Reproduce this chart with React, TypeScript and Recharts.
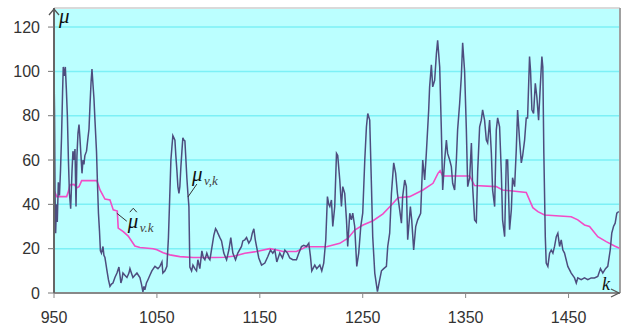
import React from 'react';
import { LineChart, Line, XAxis, YAxis, CartesianGrid, ReferenceLine, ReferenceDot } from 'recharts';

const kMu = [950,950.5,951,951.6,952.4,953.2,954.2,955.3,956.3,957.3,958.3,959,960,961,962,963,964,965,966.2,967.5,968.4,969.4,970.4,971.4,972.3,973.3,974.3,975.2,976.2,977.2,978.2,979.1,980,981.6,983,984,985,986,986.9,987.9,988.8,989.8,991.3,992.2,993.2,994.2,995.1,996.1,997.6,998.5,999.5,1000.5,1001.5,1002.9,1004.4,1005.8,1007.3,1009.2,1011.2,1013.1,1014.1,1015,1016,1017,1018.9,1020.9,1022.8,1023.8,1025.2,1026.7,1028.6,1030.6,1032,1033.5,1035,1036.4,1037.4,1038.3,1039.8,1041.3,1043.2,1045.1,1048.1,1051,1052.9,1054.9,1055.8,1057.8,1059.7,1061.2,1062.1,1063.6,1064.6,1065.5,1066.5,1067.5,1068.4,1069.4,1070.4,1071.4,1072.3,1073.3,1074.3,1075.2,1076.2,1077.2,1078.2,1079.1,1080.1,1081.1,1082,1083.7,1085,1086.9,1088.5,1089.8,1091.7,1093.7,1095.1,1096.6,1098.5,1100,1101.5,1104.1,1105.3,1107,1108.3,1109.2,1111.2,1112.8,1115,1117.7,1119.9,1121.8,1123.8,1126.4,1128.6,1132.2,1133.5,1135.4,1137.1,1139.3,1141.3,1142.7,1144.2,1145.6,1146.8,1149,1151.7,1154.9,1157.8,1160.4,1162.6,1164.6,1166.5,1169.4,1172,1174.3,1176.9,1179.1,1182,1185.6,1187.9,1190.5,1192.7,1195.3,1197.6,1199.2,1200.5,1203.4,1205.3,1208.3,1210.2,1212.1,1214.1,1215.7,1217,1218,1219.6,1220.9,1222.8,1224.5,1225.7,1227.7,1229.3,1230.6,1232.5,1234.2,1235.4,1237.4,1239,1240.3,1242.2,1244.2,1246.1,1248.1,1250,1252,1253.6,1254.9,1256.8,1258.5,1259.7,1261.7,1264.3,1266.5,1268.2,1270.4,1273,1274.3,1276.2,1277.9,1280.1,1282,1283.7,1285.9,1287.6,1288.8,1290.8,1292.4,1293.7,1296.3,1297.6,1299.5,1301.5,1303.4,1306.3,1308.3,1310.2,1311.8,1314.1,1315,1316.7,1318,1319.9,1321.6,1322.8,1324.8,1326.4,1327.7,1329.6,1331.3,1332.5,1334.5,1336.1,1337.4,1339.3,1341,1342.2,1344.2,1345.8,1347.1,1349,1350.7,1352,1353.9,1355.6,1356.8,1358.7,1360.4,1361.7,1363.6,1365.2,1366.5,1368.4,1370.1,1371.4,1373.3,1375,1376.2,1378.2,1379.8,1381.1,1383,1384.7,1385.9,1387.9,1389.5,1390.8,1392.7,1394.4,1395.6,1397.6,1399.2,1400.5,1402.4,1404.1,1405.3,1407.3,1408.9,1410.2,1412.1,1413.1,1414.4,1416,1417.7,1419.2,1420.9,1422.5,1424.1,1425,1426,1427.4,1428.3,1429.9,1431.6,1433.2,1434.8,1436.4,1438.1,1439.6,1441.3,1442.9,1444.5,1446.1,1449.3,1452.6,1455.8,1457.5,1459,1462.3,1465.5,1468.7,1472,1475.2,1478.4,1481,1483.3,1485.9,1488.1,1490.5,1492,1493.7,1495.3,1496.9,1498.8];

const muValues = [100,82,45,27,40,32,50,44,55,70,90,102,98,102,92,80,60,45,38,55,64,60,65,39,62,72,76,70,62,54,60,58,62,64,70,74,85,95,101,94,88,78,64,50,36,28,19,18,21,17,16,13,10,6,3,4,4.5,7,9,11.7,8,4.5,6,9,8,7,9,11,9,7,8,9,8,7,4,0.5,3,1.4,4.5,6,8,10,12,11,12,14,9,10,12,25,38,60,66,71,70,69,62,55.5,48,45,48,57,64,70,69,68.6,60,52,45,39,11.7,10,12.6,11,10,15,11,19,16,15,18,16,15,22.5,26,29,28,27,25,23.5,18,15,19.4,25,18,15,18,21,23.5,24,25,22.5,24,27,29,24,21,15.8,12.6,13.5,16.5,19.4,18,19.4,14,18,15.8,19.4,18,15.8,15,15,18,21,21.5,21,22.5,16.5,10,12.6,11,12.6,10,13.5,24,43.5,40,39,42,30,39,63,62,51,39,48,45,33,21,36,33,36,30,12,18,30,36,60,75,81,78,48,25.5,9,0.6,6,10,11,12,21,27,45,58.7,54,45,37.5,31.5,43.5,51,48,24,39,33,19.4,30,33,36,60,51,63,82.6,93,103,93,96,108,114,102,73.6,46.5,60,69,63,60,57,49.5,46.5,60,73.6,85.6,97.6,112.9,100,73.6,48,52,67.7,48,33,32,55,75,78,82.6,78,69,67.7,78,63,46.5,39,73.6,79,75,54,33,25.4,60,60,28.6,37.5,52,48,64.5,82.6,69,58.7,61.6,69,79,79,106.7,100,82.6,81,94.6,88.5,78,93,106.7,102,63,25.4,13.5,12,18,19.4,18,21,25.4,27,21,24,19.4,18,12,9,6.8,4.5,6.8,6,6.8,6,6.8,6.8,7.5,11,9,11,12,19.4,27,30,31.5,36,36.8];

const kHat = [950,952.6,962.3,964.1,965.5,969.4,972.3,974.3,976.9,991.7,994.7,999.5,1004.4,1007.6,1011.5,1012.4,1017.3,1022.1,1028.6,1033.5,1046.4,1050,1056.1,1062.6,1072.3,1085.2,1106.3,1116,1125.7,1135.4,1146.8,1159.7,1165.5,1172.6,1185.6,1195.3,1214.8,1227.7,1235.7,1242.2,1250.3,1260,1269.7,1277.9,1284.3,1295.6,1308.5,1318.3,1323.1,1325.2,1327.7,1353.9,1358.7,1379.8,1385.9,1408.9,1415.3,1420.2,1426.7,1452.6,1459,1465.5,1470.4,1478.4,1486.6,1494.7,1499.5];

const hatValues = [46.5,43.5,43.5,46,48.8,49,47.5,48,50.7,50.7,46.5,42.4,42,37.5,37,29.3,27.7,25.7,21.2,20.5,20,19.5,18.2,17.2,16.4,16,16,16.1,16.7,17.9,18.7,20,19.5,18.7,18.7,20.9,20.9,22.4,24.7,28.4,30.7,32.6,35.7,39.7,43,43.5,46.5,49.5,54,55.2,52.8,52.8,48.5,48,46.5,45.4,38.5,36.7,35.2,34.4,33,30.7,30,25.4,23.2,21.2,20.2];

const xTicks = [950, 1050, 1150, 1250, 1350, 1450];
const yTicks = [0, 20, 40, 60, 80, 100, 120];

const X_MIN = 950;
const X_MAX = 1500;
const Y_MAX = 128.6;

const muData = kMu.map((k, i) => ({ k, v: muValues[i] }));
const hatData = kHat.map((k, i) => ({ k, v: hatValues[i] }));

const serif = "'Liberation Serif', 'DejaVu Serif', serif";

const YArrow = (p: any) => {
  const { cx, cy } = p;
  return (
    <g>
      <path d={`M${cx - 5},${cy + 7} L${cx},${cy + 1} L${cx + 5},${cy + 7}`} stroke="#555" strokeWidth={1.3} fill="none" />
      <text x={cx + 5} y={cy + 15} fontFamily={serif} fontStyle="italic" fontSize={21} fill="#111">μ</text>
    </g>
  );
};

const XArrow = (p: any) => {
  const { cx, cy } = p;
  return (
    <g>
      <path d={`M${cx - 9},${cy - 4} L${cx - 1},${cy} L${cx - 9},${cy + 4}`} stroke="#555" strokeWidth={1.3} fill="none" />
      <text x={cx - 18} y={cy - 3} fontFamily={serif} fontStyle="italic" fontSize={18} fill="#111">k</text>
    </g>
  );
};

const MuLabel = (p: any) => {
  const { cx, cy } = p;
  return (
    <g>
      <line x1={cx} y1={cy} x2={cx + 9} y2={cy - 13} stroke="#333" strokeWidth={1} />
      <text x={cx + 4} y={cy - 16} fontFamily={serif} fontStyle="italic" fontSize={21} fill="#111">μ</text>
      <text x={cx + 16} y={cy - 12} fontFamily={serif} fontStyle="italic" fontSize={13} fill="#444">v,k</text>
    </g>
  );
};

const MuHatLabel = (p: any) => {
  const { cx, cy } = p;
  return (
    <g>
      <line x1={cx} y1={cy} x2={cx + 10} y2={cy + 8} stroke="#333" strokeWidth={1} />
      <path d={`M${cx + 13},${cy - 1} L${cx + 16.5},${cy - 5} L${cx + 20},${cy - 1}`} stroke="#333" strokeWidth={1} fill="none" />
      <text x={cx + 11} y={cy + 15} fontFamily={serif} fontStyle="italic" fontSize={21} fill="#111">μ</text>
      <text x={cx + 23} y={cy + 19} fontFamily={serif} fontStyle="italic" fontSize={13} fill="#444">v.k</text>
    </g>
  );
};

export default function App() {
  return (
    <div style={{ position: 'absolute', left: 0, top: 0, width: 625, height: 329, background: '#fff' }}>
      <LineChart width={625} height={329} margin={{ top: 8, right: 5, bottom: 6, left: 0 }}>
        <CartesianGrid horizontal vertical={false} fill="#bbffff" stroke="#7cf0f6" strokeWidth={1.5} />
        <XAxis
          type="number"
          dataKey="k"
          domain={[X_MIN, X_MAX]}
          ticks={xTicks}
          allowDataOverflow
          height={30}
          tickSize={5}
          tickMargin={14}
          axisLine={{ stroke: '#888', strokeWidth: 2 }}
          tickLine={{ stroke: '#888' }}
          tick={{ fill: '#333', fontSize: 16, fontFamily: "'Liberation Sans', Arial, sans-serif" }}
        />
        <YAxis
          type="number"
          domain={[0, Y_MAX]}
          ticks={yTicks}
          allowDataOverflow
          width={54}
          tickSize={6}
          tickMargin={8}
          axisLine={{ stroke: '#666', strokeWidth: 2 }}
          tickLine={{ stroke: '#777' }}
          tick={{ fill: '#333', fontSize: 16, fontFamily: "'Liberation Sans', Arial, sans-serif" }}
        />
        <ReferenceLine y={Y_MAX} stroke="#d9d9d9" strokeWidth={2} />
        <ReferenceLine x={X_MAX} stroke="#a0a0a0" strokeWidth={2} />
        <Line data={hatData} dataKey="v" type="linear" stroke="#f24cc6" strokeWidth={1.6} dot={false} isAnimationActive={false} />
        <Line data={muData} dataKey="v" type="linear" stroke="#4d4d7e" strokeWidth={1.5} dot={false} isAnimationActive={false} />
        <ReferenceDot x={X_MIN} y={Y_MAX} r={0} shape={YArrow} />
        <ReferenceDot x={X_MAX} y={0} r={0} shape={XArrow} />
        <ReferenceDot x={1080.1} y={43.3} r={0} shape={MuLabel} />
        <ReferenceDot x={1011} y={36} r={0} shape={MuHatLabel} />
      </LineChart>
    </div>
  );
}
